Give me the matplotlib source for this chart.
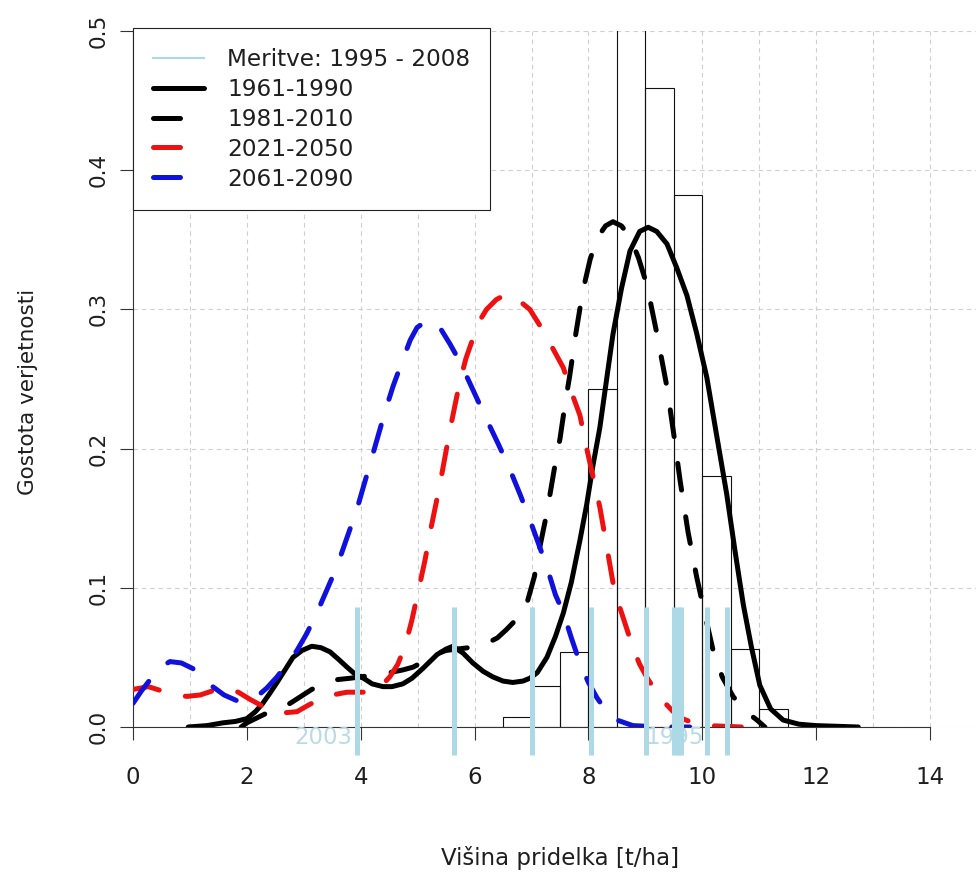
import matplotlib
matplotlib.use('Agg')
import matplotlib.pyplot as plt
from matplotlib.lines import Line2D

# ---------------- data ----------------
x_1961 = [0.97, 1.3, 1.58, 1.8, 2.0, 2.15, 2.28, 2.4, 2.53, 2.67, 2.81, 2.97, 3.14, 3.3, 3.46,
          3.6, 3.76, 3.9, 4.05, 4.2, 4.39, 4.55, 4.74, 4.9, 5.09, 5.34, 5.5, 5.62, 5.8, 5.97,
          6.15, 6.32, 6.5, 6.67, 6.85, 6.97, 7.1, 7.27, 7.42, 7.56, 7.7, 7.85, 7.97, 8.08,
          8.2, 8.32, 8.43, 8.58, 8.73, 8.9, 9.05, 9.2, 9.38, 9.55, 9.73, 9.9, 10.08, 10.25,
          10.43, 10.58, 10.72, 10.86, 11.01, 11.2, 11.42, 11.7, 12.0, 12.74]
y_1961 = [0.0, 0.001, 0.003, 0.004, 0.006, 0.011, 0.017, 0.024, 0.032, 0.041, 0.050, 0.055,
          0.058, 0.057, 0.054, 0.049, 0.043, 0.038, 0.035, 0.031, 0.029, 0.029, 0.031, 0.035,
          0.042, 0.052, 0.056, 0.058, 0.053, 0.046, 0.040, 0.036, 0.033, 0.032, 0.033, 0.035,
          0.039, 0.050, 0.065, 0.082, 0.104, 0.134, 0.160, 0.188, 0.215, 0.250, 0.282, 0.315,
          0.342, 0.356, 0.359, 0.356, 0.347, 0.330, 0.310, 0.283, 0.251, 0.210, 0.167, 0.125,
          0.088, 0.058, 0.030, 0.013, 0.005, 0.002, 0.001, 0.0]

x_1981 = [1.9, 2.0, 2.2, 2.35, 2.55, 2.76, 2.95, 3.14, 3.35, 3.58, 3.81, 4.0, 4.3, 4.5, 4.74,
          4.92, 5.1, 5.3, 5.5, 5.7, 5.9, 6.05, 6.21, 6.4, 6.56, 6.75, 6.92, 7.05, 7.15, 7.25,
          7.32, 7.42, 7.5, 7.6, 7.67, 7.78, 7.9, 8.03, 8.15, 8.3, 8.43, 8.58, 8.73, 8.88, 9.03,
          9.2, 9.38, 9.5, 9.61, 9.75, 9.9, 10.05, 10.19, 10.35, 10.54, 10.66, 10.8, 10.96, 11.1]
y_1981 = [0.0, 0.003, 0.007, 0.010, 0.013, 0.017, 0.022, 0.027, 0.031, 0.034, 0.035, 0.036,
          0.038, 0.039, 0.041, 0.043, 0.047, 0.052, 0.055, 0.056, 0.057, 0.058, 0.060, 0.064,
          0.070, 0.078, 0.089, 0.108, 0.130, 0.150, 0.166, 0.190, 0.207, 0.235, 0.252, 0.283,
          0.313, 0.336, 0.351, 0.360, 0.363, 0.360, 0.352, 0.337, 0.317, 0.283, 0.244, 0.210,
          0.177, 0.140, 0.108, 0.080, 0.055, 0.036, 0.022, 0.016, 0.010, 0.005, 0.0]

x_2021 = [0.0, 0.27, 0.5, 0.71, 0.95, 1.18, 1.4, 1.62, 1.85, 2.05, 2.23, 2.4, 2.6, 2.88, 3.05,
          3.23, 3.5, 3.76, 3.95, 4.16, 4.35, 4.51, 4.65, 4.78, 4.9, 5.04, 5.13, 5.22, 5.3, 5.39,
          5.48, 5.57, 5.66, 5.74, 5.85, 5.97, 6.09, 6.21, 6.38, 6.56, 6.7, 6.85, 6.97, 7.2,
          7.44, 7.56, 7.67, 7.85, 7.97, 8.08, 8.2, 8.32, 8.43, 8.55, 8.67, 8.78, 8.9, 9.05,
          9.2, 9.35, 9.49, 9.65, 9.84, 10.1, 10.4, 10.7]
y_2021 = [0.027, 0.029, 0.026, 0.023, 0.022, 0.023, 0.026, 0.028, 0.025, 0.020, 0.016, 0.012,
          0.010, 0.011, 0.015, 0.019, 0.023, 0.025, 0.025, 0.025, 0.029, 0.036, 0.045, 0.058,
          0.077, 0.103, 0.120, 0.140, 0.156, 0.174, 0.194, 0.214, 0.232, 0.248, 0.265, 0.279,
          0.292, 0.300, 0.307, 0.311, 0.309, 0.304, 0.300, 0.285, 0.267, 0.258, 0.244, 0.224,
          0.200, 0.180, 0.158, 0.130, 0.104, 0.086, 0.071, 0.057, 0.045, 0.034, 0.025, 0.017,
          0.011, 0.006, 0.003, 0.001, 0.0005, 0.0]

x_2061 = [0.0, 0.15, 0.3, 0.48, 0.65, 0.85, 1.05, 1.22, 1.4, 1.6, 1.82, 2.0, 2.18, 2.35, 2.53,
          2.7, 2.88, 3.05, 3.23, 3.4, 3.58, 3.75, 3.93, 4.1, 4.29, 4.43, 4.57, 4.74, 4.87, 4.99,
          5.13, 5.27, 5.42, 5.57, 5.72, 5.86, 6.03, 6.21, 6.42, 6.62, 6.8, 6.97, 7.12, 7.27,
          7.42, 7.56, 7.7, 7.85, 8.0, 8.15, 8.32, 8.5, 8.78, 9.26, 9.78]
y_2061 = [0.017, 0.026, 0.034, 0.043, 0.047, 0.046, 0.042, 0.036, 0.029, 0.023, 0.019, 0.019,
          0.022, 0.028, 0.036, 0.045, 0.055, 0.067, 0.082, 0.098, 0.115, 0.135, 0.156, 0.180,
          0.207, 0.227, 0.245, 0.264, 0.278, 0.287, 0.291, 0.292, 0.285, 0.275, 0.264, 0.252,
          0.237, 0.221, 0.203, 0.185, 0.167, 0.149, 0.132, 0.115, 0.095, 0.082, 0.064, 0.046,
          0.032, 0.021, 0.011, 0.005, 0.001, 0.0, 0.0]

hist_edges = [6.0, 6.5, 7.0, 7.5, 8.0, 8.5, 9.0, 9.5, 10.0, 10.5, 11.0, 11.5]
hist_density = [0.0, 0.007, 0.0295, 0.054, 0.243, 0.574, 0.459, 0.382, 0.180, 0.056, 0.013]

measurements = [3.93, 5.64, 7.01, 8.04, 9.01, 9.50, 9.57, 9.63, 10.09, 10.43]
meas_label_text = ['2003', '1995']
meas_label_x = [3.86, 10.03]

legend_labels = ['Meritve: 1995 - 2008', '1961-1990', '1981-2010', '2021-2050', '2061-2090']
xticks = [0, 2, 4, 6, 8, 10, 12, 14]
yticks = [0.0, 0.1, 0.2, 0.3, 0.4, 0.5]
xlabel = 'Višina pridelka [t/ha]'
ylabel = 'Gostota verjetnosti'

# ---------------- figure ----------------
plt.rcParams['font.family'] = ['DejaVu Sans']
W, H = 976, 874
fig = plt.figure(figsize=(W / 100, H / 100), dpi=100)
ax = fig.add_axes([133 / W, (H - 727) / H, (W - 133) / W, (727 - 31) / H])
px_per_unit = 56.93
ax.set_xlim(0, (W - 133) / px_per_unit)
ax.set_ylim(0, 0.5)

TXT = '#1e1e1e'
LW = 3.6        # ~5 px
DASH = (0, (5.4, 5.4))
grid_kw = dict(color='#cfcfcf', lw=0.8, linestyle=(0, (4, 3.5)), zorder=0.5)
for gx in range(1, 15):
    ax.axvline(gx, **grid_kw)
for gy in yticks:
    ax.axhline(gy, **grid_kw)

# histogram
ax.bar(hist_edges[:-1], hist_density, width=0.5, align='edge', fill=False,
       edgecolor='#111111', linewidth=0.8, zorder=1)

# density curves
ax.plot(x_1961, y_1961, color='black', lw=LW, solid_capstyle='round', zorder=3)
ax.plot(x_1981, y_1981, color='black', lw=LW, linestyle=DASH, dash_capstyle='round', zorder=3)
ax.plot(x_2021, y_2021, color='#ee1111', lw=LW, linestyle=DASH, dash_capstyle='round', zorder=3)
ax.plot(x_2061, y_2061, color='#1111dd', lw=LW, linestyle=DASH, dash_capstyle='round', zorder=3)

# measurements (rug-like)
for t, xx in zip(meas_label_text, meas_label_x):
    ax.text(xx, -0.0075, t, ha='right', va='center', color='#b9dbe6', fontsize=16.5,
            zorder=3.5, clip_on=False)
ax.vlines(measurements, -0.020, 0.0865, colors='#add8e6', lw=3.6, zorder=4, clip_on=False)

# axes styling
for s in ['top', 'right']:
    ax.spines[s].set_visible(False)
ax.spines['left'].set_bounds(0, 0.5)
ax.spines['bottom'].set_bounds(0, 14)
for s in ['left', 'bottom']:
    ax.spines[s].set_linewidth(0.8)
    ax.spines[s].set_color('#333333')
    ax.spines[s].set_zorder(2)
ax.set_xticks(xticks)
ax.set_xticklabels([str(v) for v in xticks])
ax.set_yticks(yticks)
ax.set_yticklabels(['%.1f' % v for v in yticks])
ax.tick_params(axis='both', direction='out', length=9.4, width=0.8, color='#333333',
               labelcolor=TXT)
ax.tick_params(axis='x', labelsize=16.5, pad=18.5)
ax.tick_params(axis='y', labelsize=15.5, pad=8)
for lbl in ax.get_yticklabels():
    lbl.set_rotation(90)
    lbl.set_va('center')

fig.text(560 / W, 1 - 858 / H, xlabel, ha='center', va='center', fontsize=16.5, color=TXT)
fig.text(28 / W, 1 - 392 / H, ylabel, ha='center', va='center', rotation=90,
         fontsize=15.5, color=TXT)

# legend
handles = [
    Line2D([], [], color='#add8e6', lw=1.5),
    Line2D([], [], color='black', lw=LW, solid_capstyle='round'),
    Line2D([], [], color='black', lw=LW, linestyle=DASH, dash_capstyle='round'),
    Line2D([], [], color='#ee1111', lw=LW, linestyle=DASH, dash_capstyle='round'),
    Line2D([], [], color='#1111dd', lw=LW, linestyle=DASH, dash_capstyle='round'),
]
leg = ax.legend(handles, legend_labels, loc='upper left',
                bbox_to_anchor=(133 / W, 1 - 28 / H), bbox_transform=fig.transFigure,
                borderaxespad=0, fontsize=16.7, frameon=True, fancybox=False,
                framealpha=1, edgecolor='#222222', handlelength=2.2, handletextpad=1.0,
                borderpad=0.85, labelspacing=0.3)
leg.get_frame().set_linewidth(0.8)
for t in leg.get_texts():
    t.set_color(TXT)
leg.set_zorder(10)

fig.savefig('out.png', dpi=100)
